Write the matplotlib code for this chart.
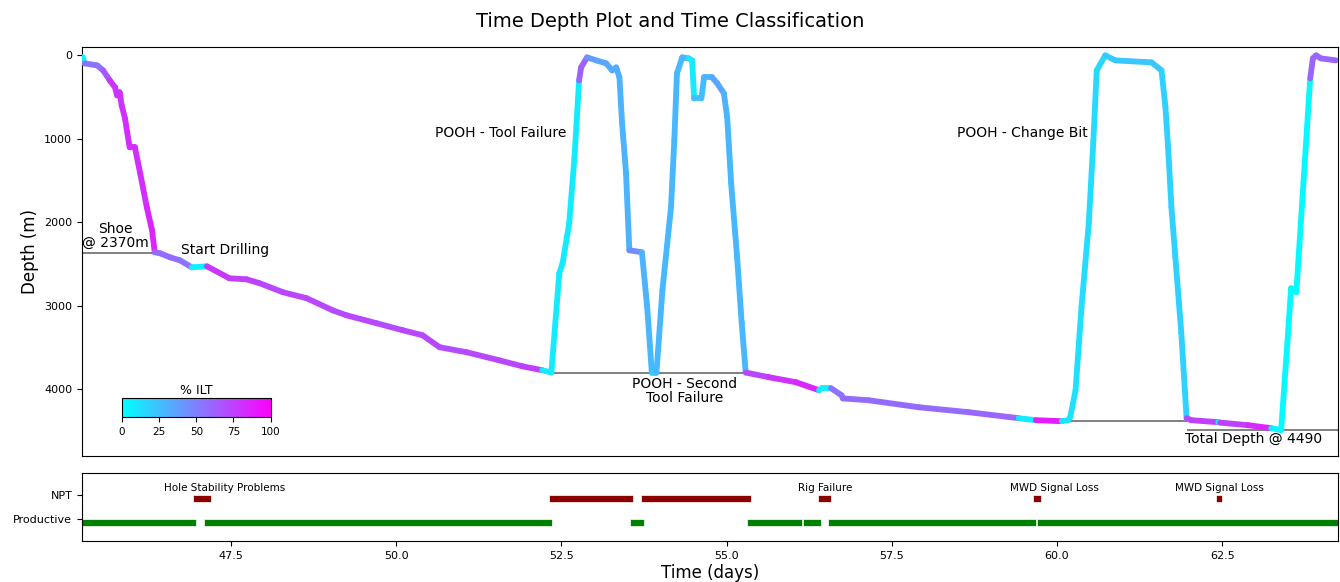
import numpy as np
import matplotlib
matplotlib.use('Agg')
import matplotlib.pyplot as plt
from matplotlib.collections import LineCollection
from matplotlib.colors import Normalize

# time (days), bit depth (m) and % ILT along the well
time_days = [
    45.26, 45.29, 45.48, 45.57, 45.67, 45.75, 45.78, 45.82, 45.85, 45.90,
    45.97, 46.05, 46.13, 46.23, 46.31, 46.35, 46.43,
    46.58, 46.73, 46.91, 47.14, 47.48, 47.74, 47.94, 48.29, 48.65, 49.04,
    49.25, 49.71, 50.10, 50.40, 50.66, 51.07, 51.56, 51.91, 52.21, 52.35,
    52.47, 52.52, 52.62, 52.70, 52.77, 52.80, 52.89, 53.03, 53.18, 53.27,
    53.33, 53.38, 53.42, 53.48, 53.53, 53.72, 53.80, 53.87, 53.94, 54.03,
    54.16, 54.21, 54.25, 54.33, 54.43, 54.48, 54.51, 54.62, 54.66, 54.78,
    54.86, 54.96, 55.01, 55.07, 55.16, 55.23, 55.29,
    55.64, 56.05, 56.40, 56.44, 56.58, 56.74, 56.76, 57.15, 57.91, 58.66,
    59.42, 59.68, 60.07, 60.17,
    60.20, 60.28, 60.37, 60.48, 60.55, 60.60, 60.73, 60.88, 61.43, 61.58,
    61.64, 61.68, 61.73, 61.79, 61.88, 61.96, 62.03,
    62.44, 62.47, 62.89, 63.24, 63.39,
    63.50, 63.54, 63.62, 63.83, 63.87, 63.92, 63.99, 64.22,
]
depth_m = [
    20, 96, 120, 180, 300, 383, 479, 443, 599, 754,
    1102, 1102, 1413, 1820, 2096, 2359, 2371,
    2419, 2455, 2539, 2527, 2671, 2683, 2731, 2838, 2910, 3054,
    3114, 3210, 3293, 3353, 3497, 3557, 3653, 3725, 3772, 3800,
    2611, 2491, 2012, 1222, 299, 144, 24, 60, 96, 180,
    144, 263, 814, 1413, 2335, 2359, 3018, 3800, 3800, 2814,
    1820, 1018, 216, 24, 36, 60, 515, 515, 263, 263,
    335, 455, 743, 1533, 2419, 3210, 3800,
    3856, 3916, 4012, 3988, 3988, 4072, 4110, 4132, 4216, 4275,
    4347, 4371, 4383, 4371,
    4335, 4012, 3018, 2012, 1018, 180, 0, 60, 84, 180,
    623, 1102, 1820, 2419, 3329, 4347, 4371,
    4395, 4400, 4431, 4467, 4490,
    3270, 2790, 2838, 275, 36, 0, 36, 60,
]
ilt_pct = [
    5, 5, 55, 55, 65, 80, 80, 80, 80, 80,
    82, 82, 82, 82, 85, 85, 60,
    58, 58, 55, 5, 78, 75, 75, 72, 72, 72,
    70, 72, 70, 72, 72, 70, 72, 72, 75, 10,
    8, 8, 8, 8, 8, 62, 62, 40, 35, 35,
    33, 33, 30, 30, 30, 45, 30, 28, 20, 28,
    28, 28, 28, 28, 28, 8, 8, 25, 25, 30,
    35, 35, 30, 28, 28, 28, 28,
    72, 80, 85, 5, 5, 55, 55, 58, 58, 58,
    60, 8, 88, 10,
    12, 12, 12, 14, 14, 15, 15, 20, 22, 22,
    18, 18, 18, 18, 18, 18, 70,
    75, 5, 75, 85, 5,
    3, 3, 3, 3, 60, 60, 60, 60,
]

# reference depths: (depth, start day, end day)
ref_depths = [2370, 3800, 4385, 4490]
ref_start = [45.25, 52.35, 60.10, 61.96]
ref_end = [46.43, 55.29, 61.96, 64.25]

# time classification intervals: (start day, duration)
npt_intervals = [(46.93, 0.27), (52.32, 1.27), (53.70, 1.67), (56.38, 0.20),
                 (59.63, 0.12), (62.41, 0.09)]
productive_intervals = [(45.25, 1.72), (47.09, 5.27), (53.54, 0.21), (55.31, 0.83),
                        (56.15, 0.28), (56.53, 3.15), (59.69, 4.56)]
npt_labels = ['Hole Stability Problems', 'Rig Failure', 'MWD Signal Loss', 'MWD Signal Loss']
npt_label_x = [47.41, 56.49, 59.96, 62.45]

fig = plt.figure(figsize=(13.4, 5.82), dpi=100)
ax = fig.add_axes([0.0612, 0.2165, 0.9373, 0.7027])
ax2 = fig.add_axes([0.0612, 0.0704, 0.9373, 0.1168], sharex=ax)

# --- time depth curve coloured by % ILT ---
pts = np.column_stack([time_days, depth_m])
segs = np.stack([pts[:-1], pts[1:]], axis=1)
norm = Normalize(0, 100)
lc = LineCollection(segs, cmap='cool', norm=norm, linewidths=4.2,
                    capstyle='round', joinstyle='round', zorder=3)
lc.set_array(np.array(ilt_pct[1:], dtype=float))
ax.add_collection(lc)

for d, x0, x1 in zip(ref_depths, ref_start, ref_end):
    ax.hlines(d, x0, x1, color='gray', linewidth=1.4, zorder=2)

ax.set_xlim(45.25, 64.25)
ax.set_ylim(4800, -100)
ax.set_yticks([0, 1000, 2000, 3000, 4000])
ax.set_ylabel('Depth (m)', fontsize=12)
ax.tick_params(axis='y', labelsize=8)
ax.tick_params(axis='x', bottom=False, labelbottom=False)

ax.text(45.76, 2330, 'Shoe\n@ 2370m', ha='center', va='bottom', fontsize=10,
        linespacing=1.0)
ax.text(47.41, 2335, 'Start Drilling', ha='center', va='center', fontsize=10)
ax.text(51.59, 934, 'POOH - Tool Failure', ha='center', va='center', fontsize=10)
ax.text(54.37, 3850, 'POOH - Second\nTool Failure', ha='center', va='top',
        fontsize=10, linespacing=1.0)
ax.text(59.48, 934, 'POOH - Change Bit', ha='center', va='center', fontsize=10)
ax.text(62.98, 4600, 'Total Depth @ 4490', ha='center', va='center', fontsize=10)

# colour bar inside the depth panel
cax = fig.add_axes([0.091, 0.2835, 0.111, 0.0326])
sm = plt.cm.ScalarMappable(norm=norm, cmap='cool')
cb = fig.colorbar(sm, cax=cax, orientation='horizontal', ticks=[0, 25, 50, 75, 100])
cb.ax.tick_params(labelsize=7.5)
cax.set_title('% ILT', fontsize=9, pad=3)

# --- time classification strip ---
ax2.broken_barh(productive_intervals, (-0.3, 0.3), facecolors='green',
                edgecolor='white', linewidth=0.5)
ax2.broken_barh(npt_intervals, (0.7, 0.3), facecolors='darkred',
                edgecolor='white', linewidth=0.5)
for lbl, x in zip(npt_labels, npt_label_x):
    ax2.text(x, 1.29, lbl, ha='center', va='center', fontsize=7.5)
ax2.set_ylim(-0.9, 1.9)
ax2.set_yticks([0, 1])
ax2.set_yticklabels(['Productive', 'NPT'])
ax2.set_xticks([47.5, 50.0, 52.5, 55.0, 57.5, 60.0, 62.5])
ax2.tick_params(labelsize=8)
ax2.set_xlabel('Time (days)', fontsize=12, labelpad=2)

fig.suptitle('Time Depth Plot and Time Classification', fontsize=14, y=0.98)

fig.savefig('out.png', dpi=100)
